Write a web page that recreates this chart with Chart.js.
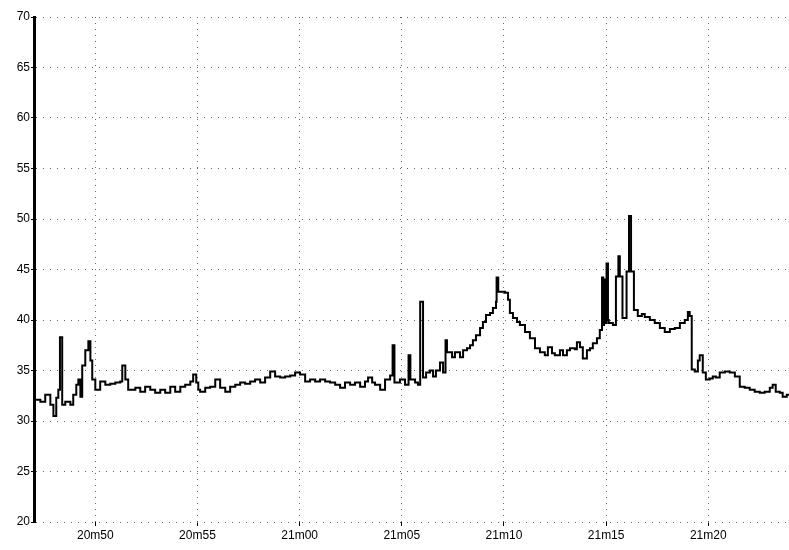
<!DOCTYPE html>
<html>
<head>
<meta charset="utf-8">
<script src="https://cdn.jsdelivr.net/npm/chart.js@4/dist/chart.umd.min.js"></script>
<style>
    html, body { margin: 0; padding: 0; background: #fff; }
    #wrap { width: 789px; height: 550px; position: relative; }
</style>
</head>
<body>
<div id="wrap"><canvas id="trend"></canvas></div>
<script>
// time in minutes past 20h (50 = 20m50, 65 = 21m05)
const times = [
    47.02, 47.31, 47.55, 47.80, 47.95, 48.09, 48.19, 48.27, 48.38, 48.53,
    48.78, 48.92, 49.07, 49.17, 49.27, 49.36, 49.51, 49.66, 49.76, 49.85,
    50.00, 50.24, 50.49, 50.73, 50.98, 51.22, 51.32, 51.47, 51.61, 51.96,
    52.20, 52.44, 52.69, 52.93, 53.18, 53.42, 53.67, 53.91, 54.16, 54.40,
    54.65, 54.79, 54.94, 55.04, 55.13, 55.38, 55.62, 55.87, 56.11, 56.36,
    56.60, 56.85, 57.09, 57.33, 57.58, 57.82, 58.07, 58.31, 58.56, 58.80,
    59.05, 59.29, 59.54, 59.78, 60.02, 60.27, 60.51, 60.76, 61.00, 61.25,
    61.49, 61.74, 61.98, 62.22, 62.47, 62.71, 62.96, 63.20, 63.35, 63.55,
    63.69, 63.94, 64.18, 64.43, 64.55, 64.64, 64.91, 65.16, 65.33, 65.42,
    65.65, 65.79, 65.90, 66.04, 66.19, 66.38, 66.53, 66.67, 66.87, 67.02,
    67.14, 67.21, 67.46, 67.60, 67.85, 68.00, 68.19, 68.34, 68.48, 68.63,
    68.83, 68.97, 69.12, 69.32, 69.46, 69.61, 69.64, 69.72, 70.05, 70.20,
    70.29, 70.44, 70.64, 70.78, 71.03, 71.27, 71.52, 71.76, 72.00, 72.15,
    72.35, 72.49, 72.74, 72.89, 73.08, 73.23, 73.47, 73.57, 73.72, 73.86,
    74.06, 74.21, 74.35, 74.55, 74.69, 74.80, 74.86, 74.90, 74.96, 75.02,
    75.09, 75.13, 75.33, 75.48, 75.60, 75.67, 75.80, 76.00, 76.12, 76.22,
    76.36, 76.55, 76.75, 76.89, 77.14, 77.38, 77.63, 77.87, 78.12, 78.36,
    78.61, 78.85, 79.00, 79.09, 79.19, 79.34, 79.49, 79.58, 79.73, 79.88,
    80.07, 80.22, 80.37, 80.56, 80.81, 81.05, 81.30, 81.54, 81.78, 82.03,
    82.27, 82.52, 82.76, 83.01, 83.15, 83.30, 83.50, 83.64, 83.84, 83.95
];

const values = [
    32.1, 31.9, 32.6, 31.6, 30.5, 32.3, 33.1, 38.3, 31.6, 31.9,
    31.6, 32.6, 33.6, 34.1, 32.4, 35.5, 37.0, 37.9, 36.0, 34.1,
    33.1, 33.9, 33.6, 33.7, 33.8, 33.9, 35.5, 34.1, 33.1, 33.3,
    32.9, 33.4, 33.1, 32.8, 33.1, 32.8, 33.4, 32.9, 33.4, 33.6,
    33.9, 34.6, 33.8, 33.1, 32.9, 33.3, 33.4, 34.1, 33.3, 32.9,
    33.4, 33.6, 33.8, 33.7, 33.9, 34.1, 33.8, 34.3, 34.9, 34.4,
    34.3, 34.4, 34.5, 34.8, 34.6, 33.9, 34.1, 33.9, 34.1, 33.9,
    33.8, 33.6, 33.3, 33.8, 33.6, 33.8, 33.4, 33.9, 34.3, 33.8,
    33.6, 33.1, 34.1, 34.5, 37.5, 33.8, 34.1, 33.6, 36.5, 34.1,
    33.8, 33.6, 41.8, 34.3, 34.8, 35.0, 34.4, 35.0, 35.8, 34.8,
    38.0, 36.8, 36.3, 36.8, 36.3, 37.0, 37.2, 37.5, 38.0, 38.5,
    39.2, 39.8, 40.5, 40.7, 41.2, 41.8, 44.2, 42.8, 42.7, 42.0,
    40.7, 40.2, 39.8, 39.5, 38.8, 38.2, 37.2, 36.8, 36.5, 37.3,
    36.7, 36.5, 37.0, 36.5, 37.0, 37.2, 37.1, 37.8, 37.3, 36.2,
    37.0, 37.2, 37.7, 38.2, 39.0, 44.2, 39.5, 44.0, 39.7, 45.6,
    40.0, 39.7, 39.5, 44.3, 46.3, 44.3, 40.2, 44.8, 50.3, 44.8,
    41.0, 40.4, 40.6, 40.3, 40.0, 39.7, 39.2, 38.8, 39.1, 39.2,
    39.7, 40.0, 40.8, 40.4, 35.1, 34.9, 36.0, 36.5, 34.8, 34.1,
    34.2, 34.4, 34.3, 34.8, 34.9, 34.8, 34.4, 33.4, 33.3, 33.1,
    32.9, 32.8, 32.9, 33.3, 33.6, 32.9, 32.8, 32.4, 32.6, 32.6
];

const xTicks = [50, 55, 60, 65, 70, 75, 80];
const xRange = [47.0, 83.95];
const yRange = [20, 70];

function minuteLabel(m) {
    if (m < 60) return "20m" + m;
    return "21m" + String(m - 60).padStart(2, "0");
}

function renderTrend(canvasId) {
    const el = document.getElementById(canvasId);
    if (!el) return;
    const ctx = el.getContext("2d");

    const points = times.map((t, i) => ({ x: t, y: values[i] }));
    const font = { family: "'Liberation Sans', Arial, sans-serif", size: 12 };

    // dotted grid, thick black left axis, no legend
    return new Chart(ctx, {
        type: "line",
        data: {
            datasets: [{
                data: points,
                stepped: true,
                borderColor: "#000",
                borderWidth: 2,
                pointRadius: 0,
                fill: false
            }]
        },
        options: {
            responsive: true,
            maintainAspectRatio: false,
            animation: false,
            layout: { padding: { top: 17, right: 0, left: 0, bottom: 0 } },
            plugins: { legend: { display: false }, tooltip: { enabled: false } },
            scales: {
                x: {
                    type: "linear",
                    min: xRange[0],
                    max: xRange[1],
                    afterBuildTicks: axis => { axis.ticks = xTicks.map(v => ({ value: v })); },
                    afterFit: axis => { axis.height = 28; },
                    ticks: {
                        color: "#000",
                        font,
                        padding: 2,
                        maxRotation: 0,
                        callback: v => minuteLabel(v)
                    },
                    grid: { color: "#666", lineWidth: 1, tickLength: 4, tickColor: "#000" },
                    border: { display: false, dash: [1, 5] }
                },
                y: {
                    min: yRange[0],
                    max: yRange[1],
                    afterFit: axis => { axis.width = 34; },
                    ticks: { stepSize: 5, color: "#000", font, padding: 1 },
                    grid: { color: "#666", lineWidth: 1, tickLength: 3, tickColor: "#000" },
                    border: { display: true, color: "#000", width: 3, dash: [1, 6] }
                }
            }
        }
    });
}

renderTrend("trend");
</script>
</body>
</html>
